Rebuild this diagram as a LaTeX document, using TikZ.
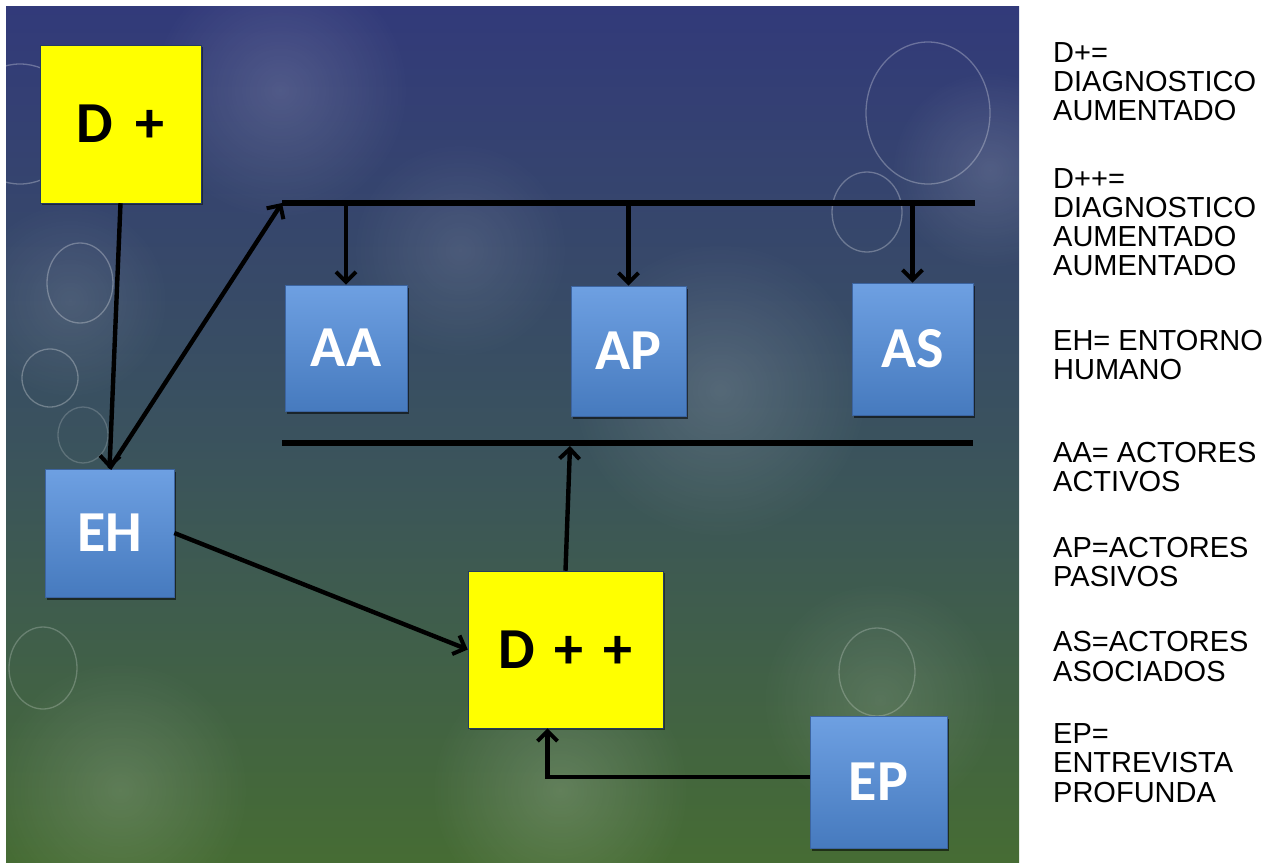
\documentclass[tikz,border=0pt]{standalone}
\usepackage{fontspec}
\setmainfont{Liberation Sans}
\newfontfamily\boxfont{Carlito}
\usetikzlibrary{arrows.meta,shadows,fadings}

% slide background: indigo at the top, slate in the middle, grass green at the foot
\definecolor{bgtop}{RGB}{44,46,128}
\definecolor{bgblue}{RGB}{50,58,122}
\definecolor{bgslate}{RGB}{58,82,94}
\definecolor{bggreen}{RGB}{70,108,52}
\definecolor{bgfoot}{RGB}{70,114,20}
\pgfdeclareverticalshading{slidebg}{100bp}{%
  color(0bp)=(bgfoot); color(25bp)=(bggreen); color(50bp)=(bgslate);
  color(75bp)=(bgblue); color(100bp)=(bgtop)}

% soft light spot that fades out towards its rim
\tikzfading[name=softspot, inner color=transparent!0, outer color=transparent!100]

\definecolor{boxtop}{RGB}{110,160,226}
\definecolor{boxbot}{RGB}{70,122,190}
\definecolor{boxedge}{RGB}{60,100,160}
\definecolor{keyyellow}{RGB}{255,255,0}

\begin{document}
\begin{tikzpicture}[x=1pt,y=-1pt,
  bluebox/.style={rectangle, inner sep=0pt, top color=boxtop, bottom color=boxbot,
    draw=boxedge, line width=0.6pt, text=white,
    font=\boxfont\bfseries\fontsize{58}{58}\selectfont,
    drop shadow={shadow xshift=2pt, shadow yshift=-3pt, opacity=0.55, fill=black}},
  yellowbox/.style={rectangle, inner sep=0pt, fill=keyyellow,
    draw=boxedge!60!black, line width=0.5pt, text=black,
    font=\boxfont\bfseries\fontsize{58}{58}\selectfont,
    drop shadow={shadow xshift=1.5pt, shadow yshift=-2pt, opacity=0.45, fill=black}},
  bar/.style={line width=5.2pt, black},
  arr/.style={line width=4.4pt, black,
    -{Straight Barb[length=10pt, width=20pt, line width=4pt]}},
  ring/.style={draw=white, draw opacity=0.28, line width=1.3pt},
  glow/.style={fill=white, path fading=softspot},
  legend/.style={font=\fontsize{29}{29}\selectfont, text=black, inner sep=0pt}
]
\useasboundingbox (0,0) rectangle (1276,865);
\fill[white] (0,0) rectangle (1276,865);

% background panel
\shade[shading=slidebg] (6,6) rectangle (1019,862);
\begin{scope}
  \clip (6,6) rectangle (1019,862);
  % soft bokeh light
  \fill[glow, fill opacity=0.14] (280,90) circle [radius=130pt];
  \fill[glow, fill opacity=0.14] (720,390) circle [radius=150pt];
  \fill[glow, fill opacity=0.10] (460,250) circle [radius=110pt];
  \fill[glow, fill opacity=0.16] (560,790) circle [radius=130pt];
  \fill[glow, fill opacity=0.14] (120,790) circle [radius=130pt];
  \fill[glow, fill opacity=0.12] (880,700) circle [radius=120pt];
  \fill[glow, fill opacity=0.14] (990,170) circle [radius=100pt];
  \fill[glow, fill opacity=0.10] (70,300) circle [radius=100pt];
  % thin bokeh rings
  \draw[ring] (20,124) ellipse [x radius=58pt, y radius=60pt];
  \draw[ring] (928,113) ellipse [x radius=62pt, y radius=71pt];
  \draw[ring] (867,212) ellipse [x radius=35pt, y radius=40pt];
  \draw[ring] (80,283) ellipse [x radius=33pt, y radius=40pt];
  \draw[ring] (50,378) ellipse [x radius=28pt, y radius=29pt];
  \draw[ring, draw opacity=0.18] (83,435) ellipse [x radius=25pt, y radius=28pt];
  \draw[ring, draw opacity=0.22] (43,668) ellipse [x radius=34pt, y radius=41pt];
  \draw[ring, draw opacity=0.22] (877,672) ellipse [x radius=38pt, y radius=44pt];
\end{scope}

% boxes
\node[yellowbox, minimum width=161pt, minimum height=158pt] (dplus) at (120.5,124)
  {D\hspace{22pt}+};
\node[bluebox, minimum width=129pt, minimum height=128pt] (eh) at (109.5,533) {EH};
\node[bluebox, minimum width=122pt, minimum height=126pt] (aa) at (346,348) {AA};
\node[bluebox, minimum width=115pt, minimum height=130pt] (ap) at (628.5,351) {AP};
\node[bluebox, minimum width=121pt, minimum height=132pt] (as) at (912.5,349) {AS};
\node[yellowbox, minimum width=195pt, minimum height=157pt] (dpp) at (565.5,649.5)
  {D\hspace{20pt}+\hspace{20pt}+};
\node[bluebox, minimum width=137pt, minimum height=132pt] (ep) at (878.5,782) {EP};

% distribution bars
\coordinate (tl) at (282,203);
\coordinate (tr) at (975,203);
\coordinate (bl) at (282,443);
\coordinate (br) at (973,443);
\coordinate (upin) at (570,446);
\draw[bar] (tl) -- (tr);
\draw[bar] (bl) -- (br);

% connectors
\draw[arr] (dplus.south) -- (eh.north);
\draw[arr] (eh.north) -- (tl);
\draw[arr] (aa.north |- tl) -- (aa.north);
\draw[arr] (ap.north |- tl) -- (ap.north);
\draw[arr] (as.north |- tl) -- (as.north);
\draw[arr] (dpp.north) -- (upin);
\draw[arr] (eh.east) -- (dpp.west);
\draw[arr] ([yshift=5pt]ep.west) -| ([xshift=-18pt]dpp.south);

% key
\foreach \t/\yc [count=\i] in {
  D+=/52, DIAGNOSTICO/81, AUMENTADO/110,
  D++=/178, DIAGNOSTICO/207, AUMENTADO/236, AUMENTADO/265,
  EH= ENTORNO/340, HUMANO/369,
  AA= ACTORES/452, ACTIVOS/481,
  AP=ACTORES/547, PASIVOS/576,
  AS=ACTORES/641, ASOCIADOS/671,
  EP=/733, ENTREVISTA/762, PROFUNDA/792}
  \node[legend, anchor=base west] (key\i) at (1053,\yc+10.4) {\t};
\end{tikzpicture}
\end{document}
